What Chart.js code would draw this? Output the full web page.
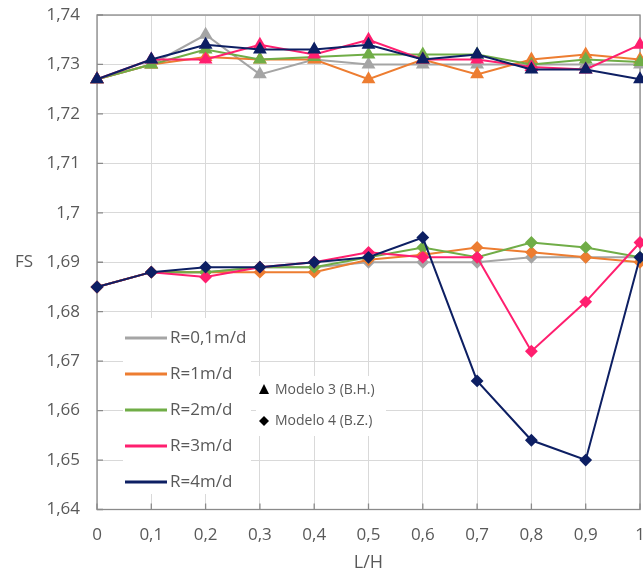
<!DOCTYPE html>
<html>
<head>
<meta charset="utf-8">
<script src="https://cdn.jsdelivr.net/npm/chart.js@4/dist/chart.umd.min.js"></script>
<style>
    html, body { margin: 0; padding: 0; background: #fff; overflow: hidden; }
    #wrap { width: 643px; height: 581px; overflow: hidden; }
</style>
</head>
<body>
<div id="wrap"><canvas id="fsChart" width="648" height="581"></canvas></div>
<script>
// L/H positions
var lh = [0, 0.1, 0.2, 0.3, 0.4, 0.5, 0.6, 0.7, 0.8, 0.9, 1];

// Modelo 3 (B.H.) - triangles
var bh01 = [1.727, 1.730, 1.736, 1.728, 1.731, 1.730, 1.730, 1.730, 1.730, 1.730, 1.730];
var bh1  = [1.727, 1.730, 1.7315, 1.731, 1.731, 1.727, 1.731, 1.728, 1.731, 1.732, 1.731];
var bh2  = [1.727, 1.730, 1.733, 1.731, 1.7315, 1.732, 1.732, 1.732, 1.730, 1.731, 1.7305];
var bh3  = [1.727, 1.731, 1.731, 1.734, 1.732, 1.735, 1.731, 1.731, 1.7295, 1.729, 1.734];
var bh4  = [1.727, 1.731, 1.734, 1.733, 1.733, 1.734, 1.731, 1.732, 1.729, 1.729, 1.727];

// Modelo 4 (B.Z.) - diamonds
var bz01 = [1.685, 1.688, 1.688, 1.689, 1.689, 1.690, 1.690, 1.690, 1.691, 1.691, 1.691];
var bz1  = [1.685, 1.688, 1.688, 1.688, 1.688, 1.6905, 1.6915, 1.693, 1.692, 1.691, 1.690];
var bz2  = [1.685, 1.688, 1.688, 1.689, 1.689, 1.691, 1.693, 1.691, 1.694, 1.693, 1.691];
var bz3  = [1.685, 1.688, 1.687, 1.689, 1.690, 1.692, 1.691, 1.691, 1.672, 1.682, 1.694];
var bz4  = [1.685, 1.688, 1.689, 1.689, 1.690, 1.691, 1.695, 1.666, 1.654, 1.650, 1.691];

var seriesNames = ["R=0,1m/d", "R=1m/d", "R=2m/d", "R=3m/d", "R=4m/d"];
var seriesColors = ["#a5a5a5", "#ed7d31", "#70ad47", "#ff1f6f", "#0d1f63"];
var modelNames = ["Modelo 3 (B.H.)", "Modelo 4 (B.Z.)"];

var bhData = [bh01, bh1, bh2, bh3, bh4];
var bzData = [bz01, bz1, bz2, bz3, bz4];

function pts(vals) {
    return vals.map(function (v, i) { return { x: lh[i], y: v }; });
}

function commaLabel(v) {
    return String(Math.round(v * 100) / 100).replace(".", ",");
}

var datasets = [];
for (var i = 0; i < 5; i++) {
    datasets.push({
        label: seriesNames[i] + " " + modelNames[0],
        data: pts(bhData[i]),
        borderColor: seriesColors[i],
        backgroundColor: seriesColors[i],
        borderWidth: 2,
        pointStyle: "triangle",
        pointRadius: 6,
        pointHoverRadius: 6,
        order: 5 - i,
        clip: false,
    });
    datasets.push({
        label: seriesNames[i] + " " + modelNames[1],
        data: pts(bzData[i]),
        borderColor: seriesColors[i],
        backgroundColor: seriesColors[i],
        borderWidth: 2,
        pointStyle: "rectRot",
        pointRadius: 5,
        pointHoverRadius: 5,
        order: 5 - i,
        clip: false,
    });
}

var textGray = "#595959";

// plot box, inner ticks, legend boxes
var framePlugin = {
    id: "framePlugin",
    beforeDatasetsDraw: function (chart) {
        var ctx = chart.ctx;
        var a = chart.chartArea;
        var xs = chart.scales.x;
        var ys = chart.scales.y;
        ctx.save();
        ctx.fillStyle = "#ffffff";
        ctx.fillRect(123, 318, 128, 176);
        ctx.fillRect(256, 376, 130, 60);

        ctx.strokeStyle = "#8a8a8a";
        ctx.lineWidth = 1.3;
        ctx.strokeRect(a.left, a.top, a.right - a.left, a.bottom - a.top);

        ctx.beginPath();
        ys.ticks.forEach(function (t) {
            var y = ys.getPixelForValue(t.value);
            ctx.moveTo(a.left, y);
            ctx.lineTo(a.left + 6, y);
        });
        xs.ticks.forEach(function (t) {
            var x = xs.getPixelForValue(t.value);
            ctx.moveTo(x, a.bottom);
            ctx.lineTo(x, a.bottom - 6);
        });
        ctx.stroke();
        ctx.restore();
    },
    afterDatasetsDraw: function (chart) {
        var ctx = chart.ctx;
        var ys = chart.scales.y;
        ctx.save();
        ctx.fillStyle = textGray;
        ctx.textBaseline = "middle";
        ctx.textAlign = "center";
        ctx.font = "17px 'Open Sans'";
        ctx.fillText("FS", 24, ys.getPixelForValue(1.69));

        // series legend
        ctx.textAlign = "left";
        for (var i = 0; i < seriesNames.length; i++) {
            var y = 338 + i * 36;
            ctx.strokeStyle = seriesColors[i];
            ctx.lineWidth = 3;
            ctx.beginPath();
            ctx.moveTo(125, y);
            ctx.lineTo(167, y);
            ctx.stroke();
            ctx.fillText(seriesNames[i], 170, y);
        }

        // model legend
        ctx.font = "14px 'Open Sans'";
        ctx.fillStyle = "#000";
        ctx.beginPath();
        ctx.moveTo(264, 384);
        ctx.lineTo(269, 394);
        ctx.lineTo(259, 394);
        ctx.closePath();
        ctx.fill();
        ctx.beginPath();
        ctx.moveTo(264, 416);
        ctx.lineTo(269, 421);
        ctx.lineTo(264, 426);
        ctx.lineTo(259, 421);
        ctx.closePath();
        ctx.fill();
        ctx.fillStyle = textGray;
        ctx.fillText(modelNames[0], 275, 390);
        ctx.fillText(modelNames[1], 275, 421);
        ctx.restore();
    },
};

var fsChart = new Chart(document.getElementById("fsChart").getContext("2d"), {
    type: "line",
    data: { datasets: datasets },
    options: {
        responsive: false,
        animation: false,
        layout: {
            padding: { top: 15, right: 3, left: 0, bottom: 0 },
        },
        plugins: {
            legend: { display: false },
            tooltip: { enabled: false },
        },
        scales: {
            x: {
                type: "linear",
                min: 0,
                max: 1,
                afterFit: function (scale) {
                    scale.height = 71.5;
                    scale.paddingLeft = 0;
                    scale.paddingRight = 0;
                },
                ticks: {
                    stepSize: 0.1,
                    padding: 15,
                    color: textGray,
                    font: { family: "'Open Sans'", size: 17 },
                    callback: function (v) { return commaLabel(v); },
                },
                grid: { color: "#d9d9d9", drawTicks: false },
                border: { display: false },
                title: {
                    display: true,
                    text: "L/H",
                    color: textGray,
                    font: { family: "'Open Sans'", size: 18 },
                    padding: { top: 0, bottom: 7 },
                },
            },
            y: {
                min: 1.64,
                max: 1.74,
                afterFit: function (scale) {
                    scale.width = 97;
                    scale.paddingTop = 0;
                    scale.paddingBottom = 0;
                },
                ticks: {
                    stepSize: 0.01,
                    padding: 17,
                    color: textGray,
                    font: { family: "'Open Sans'", size: 17 },
                    callback: function (v) { return commaLabel(v); },
                },
                grid: { color: "#d9d9d9", drawTicks: false },
                border: { display: false },
            },
        },
    },
    plugins: [framePlugin],
});
</script>
</body>
</html>
